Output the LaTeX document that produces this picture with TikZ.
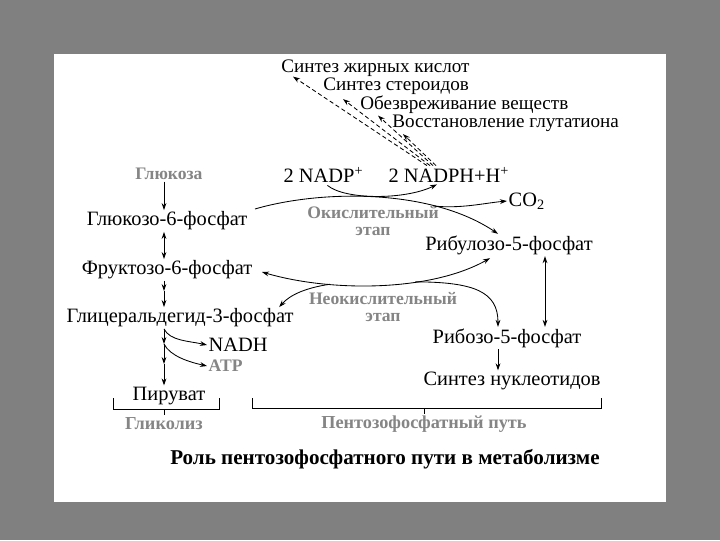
\documentclass[tikz,border=0pt]{standalone}
\usepackage{fontspec}
\setmainfont{Liberation Serif}
\usetikzlibrary{positioning, arrows.meta, calc}

\definecolor{slidegray}{HTML}{808080}
\definecolor{labelgray}{HTML}{858585}

\begin{document}
\begin{tikzpicture}[
    x=0.025cm, y=-0.025cm,
    metab/.style={inner sep=1pt, font=\fontsize{14.5}{16}\selectfont},
    role/.style={anchor=west, inner sep=0pt, text height=9pt, text depth=0pt, font=\fontsize{13.6}{15}\selectfont},
    stage/.style={inner sep=1pt, text=labelgray, align=center, font=\bfseries\fontsize{12.5}{13.5}\selectfont},
    arrow/.style={-{Stealth[length=5pt, width=3.4pt]}, line width=0.6pt},
    darrow/.style={{Stealth[length=5pt, width=3.4pt]}-{Stealth[length=5pt, width=3.4pt]}, line width=0.6pt},
    dasharrow/.style={arrow, dash pattern=on 3pt off 2pt},
    bracket/.style={line width=0.6pt}
]

\useasboundingbox (0,0) rectangle (720,540);
\fill[slidegray] (0,0) rectangle (720,540);
\fill[white] (54,54) rectangle (666,502);

\node[role] (fa) at (281,66) {Синтез жирных кислот};
\node[role] (st) at (323,84.5) {Синтез стероидов};
\node[role] (det) at (360,103) {Обезвреживание веществ};
\node[role] (glut) at (392,121.5) {Восстановление глутатиона};

\node[stage] (glc) at (169,174) {Глюкоза};
\node[metab] (g6p) at (167,221) {Глюкозо-6-фосфат};
\node[metab] (f6p) at (167,270) {Фруктозо-6-фосфат};
\node[metab] (ga3p) at (180,318) {Глицеральдегид-3-фосфат};
\node[metab, anchor=west] (nadh) at (207,345) {NADH};
\node[stage, anchor=west] (atp) at (207,366) {ATP};
\node[metab] (pyr) at (169,396) {Пируват};

\node[metab, anchor=west] (nadp) at (282,175) {2 NADP\textsuperscript{+}};
\node[metab, anchor=west] (nadph) at (387,175) {2 NADPH+H\textsuperscript{+}};
\node[metab, anchor=west] (co2) at (507,201) {CO\textsubscript{2}};
\node[stage] (ox) at (373,221) {Окислительный\\[-2pt]этап};
\node[metab] (ru5p) at (509,245) {Рибулозо-5-фосфат};
\node[stage] (nonox) at (383,307) {Неокислительный\\[-2pt]этап};
\node[metab] (r5p) at (507,338) {Рибозо-5-фосфат};
\node[metab] (nucl) at (512,381) {Синтез нуклеотидов};

\node[stage, font=\bfseries\fontsize{13}{14}\selectfont] (gly) at (164,424) {Гликолиз};
\node[stage, font=\bfseries\fontsize{13}{14}\selectfont] (ppp) at (424,424) {Пентозофосфатный путь};
\node[inner sep=1pt, font=\bfseries\fontsize{15}{16}\selectfont] (title) at (385,459) {Роль пентозофосфатного пути в метаболизме};

\coordinate (spine) at (164,0);
\coordinate (s1) at (164,291);
\coordinate (s2) at (164,344);
\coordinate (s3) at (164,364);

\draw[arrow] (glc.south -| spine) -- (g6p.north -| spine);
\draw[darrow] (g6p.south -| spine) -- (f6p.north -| spine);
\draw[arrow] (f6p.south -| spine) -- (s1);
\draw[arrow] (s1) -- (ga3p.north -| spine);
\draw[arrow] (ga3p.south -| spine) -- (s2);
\draw[arrow] (s2) -- (s3);
\draw[arrow] (s3) -- (pyr.north -| spine);
\draw[arrow] (ga3p.south -| spine) .. controls +(6,12) and +(-18,-4) .. (nadh.west);
\draw[arrow] (s2) .. controls +(6,12) and +(-18,-4) .. (atp.west);

\draw[arrow] ($(nadp.south)+(4,1)$) .. controls (345,200) and (405,200) .. ($(nadph.south west)+(50,0)$);
\draw[arrow] ($(g6p.east)+(6,-12)$) .. controls (320,190) and (430,188) .. coordinate[pos=0.72] (oxsplit) ($(ru5p.north)+(-11,0)$);
\draw[arrow] (oxsplit) .. controls (460,209) and (485,203) .. (co2.west);

\draw[dasharrow] ($(nadph.north west)+(40,0)$) -- ($(fa.south west)+(12,4)$);
\draw[dasharrow] ($(nadph.north west)+(43,0)$) -- ($(st.south west)+(20,8)$);
\draw[dasharrow] ($(nadph.north west)+(46,0)$) -- ($(det.south west)+(18,6)$);
\draw[dasharrow] ($(nadph.north west)+(49,0)$) -- ($(glut.south west)+(11,6)$);

\draw[darrow] ($(f6p.east)+(8,2)$) .. controls (330,292) and (430,292) .. coordinate[pos=0.3] (nsplit) coordinate[pos=0.65] (rsplit) ($(ru5p.south)+(-19,2)$);
\draw[arrow] (nsplit) .. controls (305,288) and (290,295) .. ($(ga3p.north east)+(-16,0)$);
\draw[arrow] (rsplit) .. controls (475,282) and (498,292) .. (r5p.north -| 498,0);
\draw[darrow] (ru5p.south -| 545,0) -- (r5p.north -| 545,0);
\draw[arrow] (r5p.south -| 498,0) -- (nucl.north -| 498,0);

\draw[bracket] (113,398) -- (113,409) -- (219,409) -- (219,398);
\draw[bracket] (gly.north |- 0,409) -- ++(0,6);
\draw[bracket] (252,398) -- (252,408) -- (601,408) -- (601,398);
\draw[bracket] (ppp.north |- 0,408) -- ++(0,6);

\end{tikzpicture}
\end{document}
